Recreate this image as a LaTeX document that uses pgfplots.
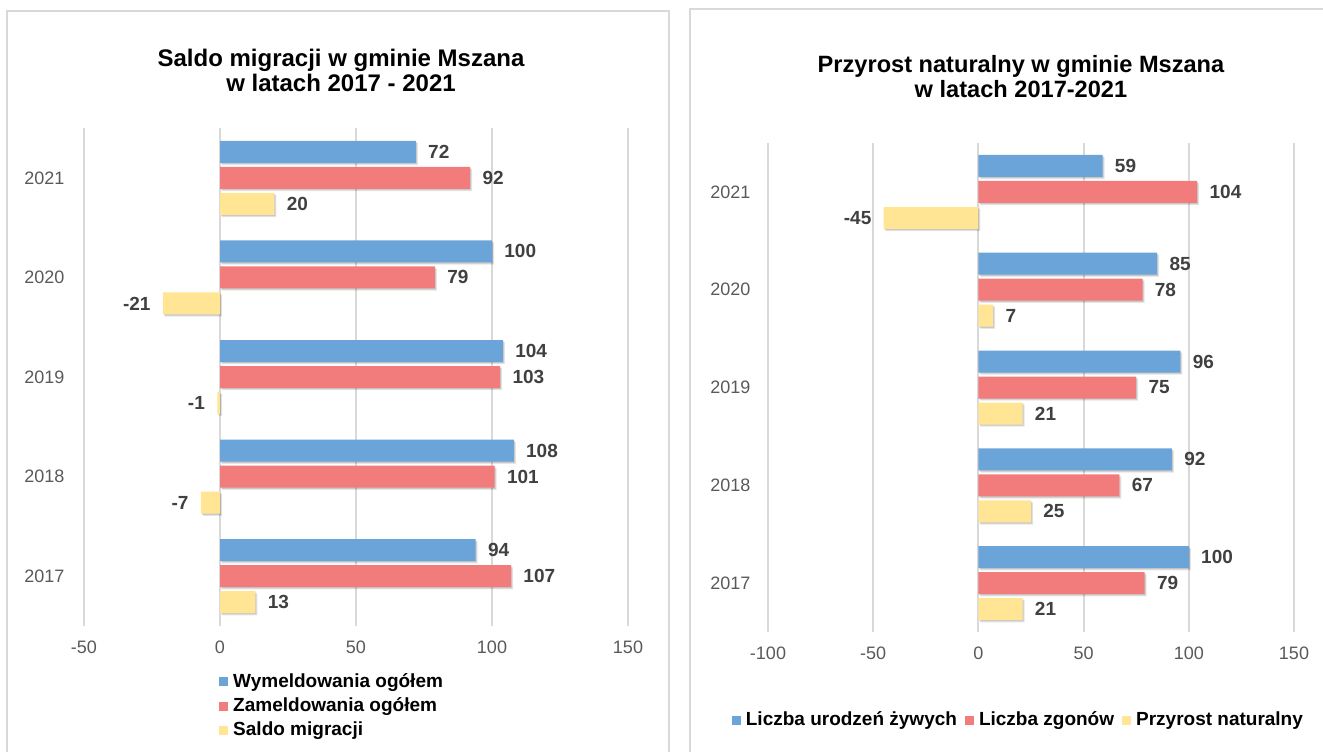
\documentclass[border=0pt]{standalone}
\usepackage{pgfplots}
\pgfplotsset{compat=1.18}
\usepackage{fontspec}
\setmainfont{Liberation Sans}
\definecolor{cblue}{HTML}{6AA4D8}
\definecolor{cred}{HTML}{F27C7C}
\definecolor{cyel}{HTML}{FFE594}
\definecolor{gridc}{HTML}{D9D9D9}
\definecolor{labc}{HTML}{404040}
\definecolor{tickc}{HTML}{595959}
\pgfplotsset{
  mybars/.style={
    scale only axis, anchor=south west,
    xbar, bar width=11pt,
    ymin=-0.5, ymax=4.5, enlargelimits=false, clip=false,
    ytick={0,1,2,3,4}, yticklabels={2017,2018,2019,2020,2021},
    xmajorgrids, major grid style={gridc, line width=1pt},
    axis line style={draw=none}, tick style={draw=none},
    /pgf/number format/assume math mode=true,
    tick label style={font=\fontsize{9}{10}\selectfont, color=tickc},
    xticklabel style={yshift=-4pt},
    nodes near coords,
    every node near coord/.append style={font=\fontsize{9.5}{11}\selectfont\bfseries, color=labc, inner xsep=6pt},
    legend image code/.code={\fill[#1, draw=none] (0pt,-2.25pt) rectangle (4.5pt,2.25pt); \path (5.5pt,0pt);},
    legend style={draw=none, fill=none, font=\fontsize{9.5}{11}\selectfont\bfseries, nodes={inner sep=1.5pt}},
  },
  shad/.style={draw=none, forget plot,
    preaction={fill=black, fill opacity=0.10, transform canvas={xshift=1.0pt, yshift=-1.1pt}},
    preaction={fill=black, fill opacity=0.12, transform canvas={xshift=0.5pt, yshift=-0.6pt}}},
}
\begin{document}
\begin{tikzpicture}[x=0.5pt,y=0.5pt]
\path[use as bounding box] (0,0) rectangle (1323,752);
\draw[gridc, line width=1pt] (7,0) -- (7,741) -- (669,741) -- (669,0);
\draw[gridc, line width=1pt] (690,0) -- (690,743) -- (1330,743);
\node[font=\fontsize{12}{12.5}\selectfont\bfseries, align=center] at (341,682) {Saldo migracji w gminie Mszana\\w latach 2017 - 2021};
\node[font=\fontsize{11.8}{12.5}\selectfont\bfseries, align=center] at (1021,675) {Przyrost naturalny w gminie Mszana\\w latach 2017-2021};

\begin{axis}[mybars,
  at={(42pt,63pt)}, width=272pt, height=249pt,
  xmin=-50, xmax=150, xtick={-50,0,50,100,150},
  yticklabel style={xshift=-2pt},
  legend cell align=left,
  legend style={at={(axis description cs:0.457,-0.161)}, anchor=center, /tikz/row sep=0.7pt},
]
\addplot[fill=cblue, shad, bar shift=13pt] coordinates {(94,0) (108,1) (104,2) (100,3) (72,4)};
\addplot[fill=cred, shad, bar shift=0pt] coordinates {(107,0) (101,1) (103,2) (79,3) (92,4)};
\addplot[fill=cyel, shad, bar shift=-13pt] coordinates {(13,0) (-7,1) (-1,2) (-21,3) (20,4)};
\addlegendimage{fill=cblue, draw=none}
\addlegendentry{Wymeldowania ogółem}
\addlegendimage{fill=cred, draw=none}
\addlegendentry{Zameldowania ogółem}
\addlegendimage{fill=cyel, draw=none}
\addlegendentry{Saldo migracji}
\end{axis}

\begin{axis}[mybars,
  at={(384pt,60pt)}, width=263pt, height=244.5pt,
  xmin=-100, xmax=150, xtick={-100,-50,0,50,100,150},
  yticklabel style={xshift=-1pt},
  legend columns=3,
  legend style={at={(axis description cs:0.477,-0.18)}, anchor=center, /tikz/every even column/.append style={column sep=2.5pt}},
]
\addplot[fill=cblue, shad, bar shift=13pt] coordinates {(100,0) (92,1) (96,2) (85,3) (59,4)};
\addplot[fill=cred, shad, bar shift=0pt] coordinates {(79,0) (67,1) (75,2) (78,3) (104,4)};
\addplot[fill=cyel, shad, bar shift=-13pt] coordinates {(21,0) (25,1) (21,2) (7,3) (-45,4)};
\addlegendimage{fill=cblue, draw=none}
\addlegendentry{Liczba urodzeń żywych}
\addlegendimage{fill=cred, draw=none}
\addlegendentry{Liczba zgonów}
\addlegendimage{fill=cyel, draw=none}
\addlegendentry{Przyrost naturalny}
\end{axis}
\end{tikzpicture}
\end{document}
